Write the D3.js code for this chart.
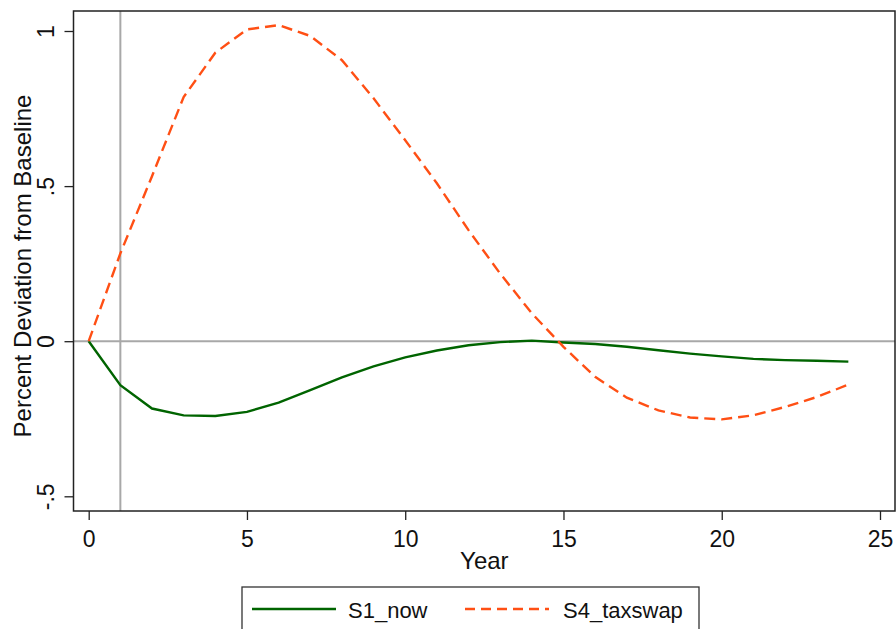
<!DOCTYPE html>
<html>
<head>
<meta charset="utf-8">
<script src="https://cdn.jsdelivr.net/npm/d3@7"></script>
<style>
  body { margin: 0; background: #fff; }
  text { font-family: "Liberation Sans", Arial, sans-serif; }
</style>
</head>
<body>
<svg width="896" height="629"></svg>
<script>
// dados
const years = d3.range(0, 25);
const s1_now = [0, -0.142, -0.217, -0.239, -0.241, -0.228, -0.198, -0.158, -0.117, -0.081,
  -0.052, -0.030, -0.013, -0.003, 0.002, -0.004, -0.009, -0.018, -0.029, -0.040,
  -0.049, -0.057, -0.061, -0.063, -0.066];
const s4_taxswap = [0, 0.283, 0.532, 0.787, 0.930, 1.005, 1.019, 0.984, 0.906, 0.783,
  0.648, 0.509, 0.358, 0.218, 0.090, -0.018, -0.115, -0.182, -0.223, -0.246,
  -0.252, -0.239, -0.212, -0.180, -0.140];
const xTicks = [0, 5, 10, 15, 20, 25];
const yTicks = [-0.5, 0, 0.5, 1];
const yTickLabels = ["-.5", "0", ".5", "1"];
const seriesNames = ["S1_now", "S4_taxswap"];

const svg = d3.select("svg");

const x = d3.scaleLinear().domain([0, 25]).range([88.7, 880]);
const y = d3.scaleLinear().domain([-0.5, 1]).range([496.3, 31]);

const box = {left: 73.5, right: 895, top: 11, bottom: 511};

// linhas de referência
svg.append("line")
    .attr("x1", x(1)).attr("x2", x(1))
    .attr("y1", box.top).attr("y2", box.bottom)
    .attr("stroke", "#a8a8a8").attr("stroke-width", 2);
svg.append("line")
    .attr("x1", box.left).attr("x2", box.right)
    .attr("y1", y(0)).attr("y2", y(0))
    .attr("stroke", "#a8a8a8").attr("stroke-width", 2);

const line = d3.line()
    .x((d, i) => x(years[i]))
    .y(d => y(d));

svg.append("path")
    .datum(s1_now)
    .attr("d", line)
    .attr("fill", "none")
    .attr("stroke", "#006400")
    .attr("stroke-width", 2.4);

svg.append("path")
    .datum(s4_taxswap)
    .attr("d", line)
    .attr("fill", "none")
    .attr("stroke", "#ff4f14")
    .attr("stroke-width", 2.4)
    .attr("stroke-dasharray", "11,6");

// moldura
svg.append("rect")
    .attr("x", box.left).attr("y", box.top)
    .attr("width", box.right - box.left).attr("height", box.bottom - box.top)
    .attr("fill", "none").attr("stroke", "#222").attr("stroke-width", 1.5);

// eixo x
const gx = svg.append("g")
    .attr("transform", "translate(0," + box.bottom + ")")
    .call(d3.axisBottom(x).tickValues(xTicks).tickSize(9).tickFormat(d => d));
gx.select(".domain").remove();
gx.selectAll(".tick line").attr("stroke", "#222").attr("stroke-width", 1.3);
gx.selectAll(".tick text")
    .attr("y", 36).attr("dy", null)
    .attr("font-size", 23).attr("fill", "#111")
    .attr("font-family", "Liberation Sans, Arial, sans-serif");

// eixo y
const gy = svg.append("g")
    .attr("transform", "translate(" + box.left + ",0)")
    .call(d3.axisLeft(y).tickValues(yTicks).tickSize(9).tickFormat((d, i) => yTickLabels[i]));
gy.select(".domain").remove();
gy.selectAll(".tick line").attr("stroke", "#222").attr("stroke-width", 1.3);
gy.selectAll(".tick text")
    .attr("font-size", 23).attr("fill", "#111")
    .attr("font-family", "Liberation Sans, Arial, sans-serif")
    .attr("x", null).attr("dy", null)
    .attr("text-anchor", "middle")
    .attr("transform", "translate(-20,0) rotate(-90)");

// títulos
svg.append("text")
    .attr("x", x(12.5)).attr("y", 569)
    .attr("text-anchor", "middle")
    .attr("font-size", 24).attr("fill", "#111")
    .text("Year");

svg.append("text")
    .attr("transform", "translate(31,266) rotate(-90)")
    .attr("text-anchor", "middle")
    .attr("font-size", 24).attr("fill", "#111")
    .text("Percent Deviation from Baseline");

// legenda
const leg = svg.append("g");
leg.append("rect")
    .attr("x", 242).attr("y", 587)
    .attr("width", 457).attr("height", 60)
    .attr("fill", "#fff").attr("stroke", "#333").attr("stroke-width", 1.3);

const legItems = [
  {name: seriesNames[0], color: "#006400", dash: null, x1: 252, x2: 336, tx: 348},
  {name: seriesNames[1], color: "#ff4f14", dash: "10,6", x1: 465, x2: 549, tx: 563}
];
legItems.forEach(it => {
  leg.append("line")
      .attr("x1", it.x1).attr("x2", it.x2)
      .attr("y1", 609).attr("y2", 609)
      .attr("stroke", it.color).attr("stroke-width", 2.4)
      .attr("stroke-dasharray", it.dash);
  leg.append("text")
      .attr("x", it.tx).attr("y", 618)
      .attr("font-size", 22).attr("fill", "#111")
      .text(it.name);
});
</script>
</body>
</html>
